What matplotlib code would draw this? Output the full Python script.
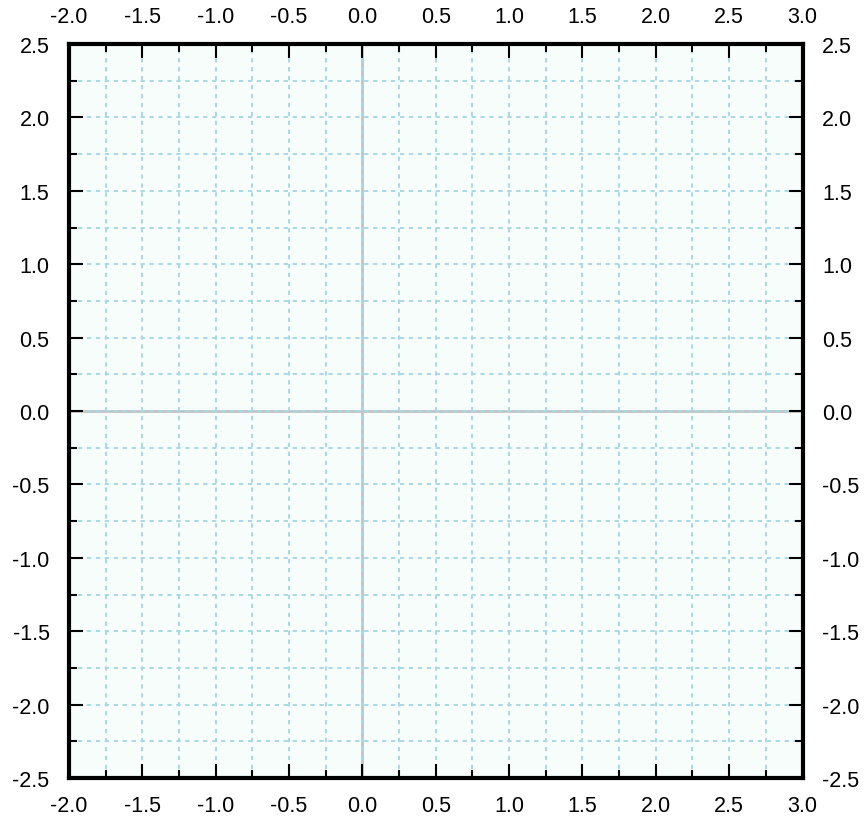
import numpy as np
import matplotlib
matplotlib.use("Agg")
import matplotlib.pyplot as plt
from matplotlib.ticker import MultipleLocator, FormatStrFormatter

# axis ranges and tick spacing
x_range = [-2.0, 3.0]
y_range = [-2.5, 2.5]
major_step = 0.5
minor_step = 0.25

plt.rcParams['font.family'] = ['Liberation Sans', 'DejaVu Sans']

fig = plt.figure(figsize=(8.65, 8.2), dpi=100)
ax = fig.add_axes([69 / 865, (820 - 779) / 820, (802.5 - 69) / 865, (779 - 45) / 820])
ax.set_facecolor('#f6fdfb')

ax.set_xlim(*x_range)
ax.set_ylim(*y_range)

for axis in (ax.xaxis, ax.yaxis):
    axis.set_major_locator(MultipleLocator(major_step))
    axis.set_minor_locator(MultipleLocator(minor_step))
    axis.set_major_formatter(FormatStrFormatter('%.1f'))

# zero lines under the grid
ax.axhline(0, color='#c0c4c4', lw=2, zorder=0.5)
ax.axvline(0, color='#c0c4c4', lw=2, zorder=0.5)

ax.grid(which='both', color='#a8d8e8', linestyle=(0, (2.2, 2.4)), linewidth=1.4)
ax.set_axisbelow(True)

ax.tick_params(which='both', direction='in', top=True, right=True,
               labeltop=True, labelright=True, labelsize=15.5, color='black')
ax.tick_params(which='major', length=10, width=1.5)
ax.tick_params(which='minor', length=6, width=1.5)
ax.tick_params(axis='y', which='major', pad=14)
ax.tick_params(axis='x', which='major', pad=12)

for sp in ax.spines.values():
    sp.set_linewidth(3.0)
    sp.set_color('black')

fig.savefig('out.png', dpi=100)
